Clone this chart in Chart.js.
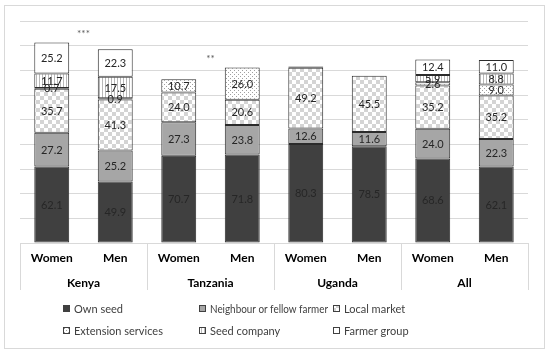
<!DOCTYPE html>
<html lang="en">
<head>
    <meta charset="UTF-8">
    <title>Seed sources by gender and country</title>
    <script src="https://cdn.jsdelivr.net/npm/chart.js"></script>
    <style>
        body { margin: 0; background: #fff; }
        #wrap { width: 550px; height: 354px; }
    </style>
</head>
<body>
    <div id="wrap"><canvas id="seedChart" width="550" height="354"></canvas></div>

    <script>
        // categories
        const countries = ["Kenya", "Tanzania", "Uganda", "All"];
        const genders = ["Women", "Men"];
        const barLabels = ["Women", "Men", "Women", "Men", "Women", "Men", "Women", "Men"];

        // series values (%), bottom to top of each stack
        const ownSeed = [62.1, 49.9, 70.7, 71.8, 80.3, 78.5, 68.6, 62.1];
        const neighbourFarmer = [27.2, 25.2, 27.3, 23.8, 12.6, 11.6, 24.0, 22.3];
        const localMarket = [35.7, 41.3, 24.0, 20.6, 49.2, 45.5, 35.2, 35.2];
        const extensionServices = [0.7, 0.9, 10.7, 26.0, 1.0, 0, 2.6, 9.0];
        const seedCompany = [11.7, 17.5, 0, 0, 0, 0, 5.9, 8.8];
        const farmerGroup = [25.2, 22.3, 0, 0, 0, 0, 12.4, 11.0];

        // significance marks: placed between the two bars of a country
        const sigCountry = [0, 1];
        const sigMarks = ["***", "**"];
        const sigValues = [170, 149];

        // y axis ticks
        const yMax = 180;
        const yStep = 20;

        const FONT = "Lato, 'Open Sans', sans-serif";

        function makePattern(kind) {
            const c = document.createElement("canvas");
            const g = c.getContext("2d");
            if (kind === "checker") {
                c.width = 8; c.height = 8;
                g.fillStyle = "#fff"; g.fillRect(0, 0, 8, 8);
                g.fillStyle = "#d4d4d4";
                g.fillRect(0, 0, 4, 4); g.fillRect(4, 4, 4, 4);
            } else if (kind === "dots") {
                c.width = 4; c.height = 4;
                g.fillStyle = "#fff"; g.fillRect(0, 0, 4, 4);
                g.fillStyle = "#a0a0a0";
                g.fillRect(0, 0, 1, 1); g.fillRect(2, 2, 1, 1);
            } else {
                c.width = 3; c.height = 3;
                g.fillStyle = "#fff"; g.fillRect(0, 0, 3, 3);
                g.fillStyle = "#b8b8b8";
                g.fillRect(0, 0, 1, 3);
            }
            return g.createPattern(c, "repeat");
        }

        const fills = {
            own: "#404040",
            neighbour: "#a6a6a6",
            market: makePattern("checker"),
            extension: makePattern("dots"),
            company: makePattern("stripes"),
            group: "#ffffff"
        };

        function series(label, data, fill) {
            return {
                label: label,
                data: data,
                backgroundColor: fill,
                borderColor: "#2b2b2b",
                borderWidth: 1,
                borderSkipped: false,
                barPercentage: 0.55,
                categoryPercentage: 1.0
            };
        }

        const datasets = [
            series("Own seed", ownSeed, fills.own),
            series("Neighbour or fellow farmer", neighbourFarmer, fills.neighbour),
            series("Local market", localMarket, fills.market),
            series("Extension services", extensionServices, fills.extension),
            series("Seed company", seedCompany, fills.company),
            series("Farmer group", farmerGroup, fills.group)
        ];

        // labels not printed in the source (dataset, index)
        const hiddenLabels = ["3:4"];

        const decorations = {
            id: "decorations",
            beforeDraw(chart) {
                const ctx = chart.ctx;
                ctx.save();
                ctx.fillStyle = "#fff";
                ctx.fillRect(0, 0, chart.width, chart.height);
                ctx.strokeStyle = "#d9d9d9";
                ctx.lineWidth = 1;
                ctx.strokeRect(4.5, 5.5, 540, 343);
                ctx.restore();
            },
            afterDatasetsDraw(chart) {
                const ctx = chart.ctx;
                const x = chart.scales.x;
                const y = chart.scales.y;
                const area = chart.chartArea;
                ctx.save();

                // value labels
                ctx.font = "11px " + FONT;
                ctx.textAlign = "center";
                ctx.textBaseline = "middle";
                ctx.fillStyle = "#262626";
                chart.data.datasets.forEach((ds, di) => {
                    const meta = chart.getDatasetMeta(di);
                    meta.data.forEach((bar, i) => {
                        const v = ds.data[i];
                        if (!v || hiddenLabels.includes(di + ":" + i)) return;
                        ctx.fillText(v.toFixed(1), bar.x, (bar.y + bar.base) / 2 + 0.5);
                    });
                });

                // significance marks
                ctx.font = "10px " + FONT;
                ctx.fillStyle = "#595959";
                sigCountry.forEach((c, k) => {
                    const xm = (x.getPixelForValue(c * 2) + x.getPixelForValue(c * 2 + 1)) / 2;
                    ctx.fillText(sigMarks[k], xm, y.getPixelForValue(sigValues[k]));
                });

                // two-level category axis
                const step = x.getPixelForValue(1) - x.getPixelForValue(0);
                ctx.strokeStyle = "#d9d9d9";
                ctx.lineWidth = 1;
                ctx.beginPath();
                ctx.moveTo(area.left, area.bottom + 0.5);
                ctx.lineTo(area.right, area.bottom + 0.5);
                for (let c = 0; c <= countries.length; c++) {
                    const xb = Math.round(x.getPixelForValue(c * 2) - step / 2) + 0.5;
                    ctx.moveTo(xb, area.bottom);
                    ctx.lineTo(xb, area.bottom + 47);
                }
                ctx.stroke();

                ctx.fillStyle = "#000";
                ctx.font = "bold 12px " + FONT;
                barLabels.forEach((lab, i) => {
                    ctx.fillText(lab, x.getPixelForValue(i), area.bottom + 15);
                });
                countries.forEach((name, c) => {
                    const xm = (x.getPixelForValue(c * 2) + x.getPixelForValue(c * 2 + 1)) / 2;
                    ctx.fillText(name, xm, area.bottom + 40);
                });

                // legend, two rows of three
                const colX = [63, 199, 333];
                const rowY = [309, 331];
                ctx.font = "11px " + FONT;
                ctx.textAlign = "left";
                chart.data.datasets.forEach((ds, di) => {
                    const bx = colX[di % 3];
                    const by = rowY[Math.floor(di / 3)];
                    ctx.fillStyle = ds.backgroundColor;
                    ctx.fillRect(bx, by - 4, 7, 7);
                    ctx.strokeStyle = "#404040";
                    ctx.strokeRect(bx + 0.5, by - 3.5, 6, 6);
                    ctx.fillStyle = "#404040";
                    ctx.fillText(ds.label, bx + 11, by, 118);
                });
                ctx.restore();
            }
        };

        new Chart(document.getElementById("seedChart"), {
            type: "bar",
            data: { labels: barLabels, datasets: datasets },
            options: {
                responsive: false,
                animation: false,
                devicePixelRatio: 1,
                layout: { padding: { left: 20, right: 22, top: 21, bottom: 111 } },
                plugins: { legend: { display: false }, tooltip: { enabled: false } },
                scales: {
                    x: {
                        stacked: true,
                        display: true,
                        ticks: { display: false },
                        grid: { display: false, drawTicks: false },
                        border: { display: false }
                    },
                    y: {
                        stacked: true,
                        min: 0,
                        max: yMax,
                        ticks: { display: false, stepSize: yStep },
                        grid: { color: "#d9d9d9", drawTicks: false },
                        border: { display: false }
                    }
                }
            },
            plugins: [decorations]
        });
    </script>
</body>
</html>
